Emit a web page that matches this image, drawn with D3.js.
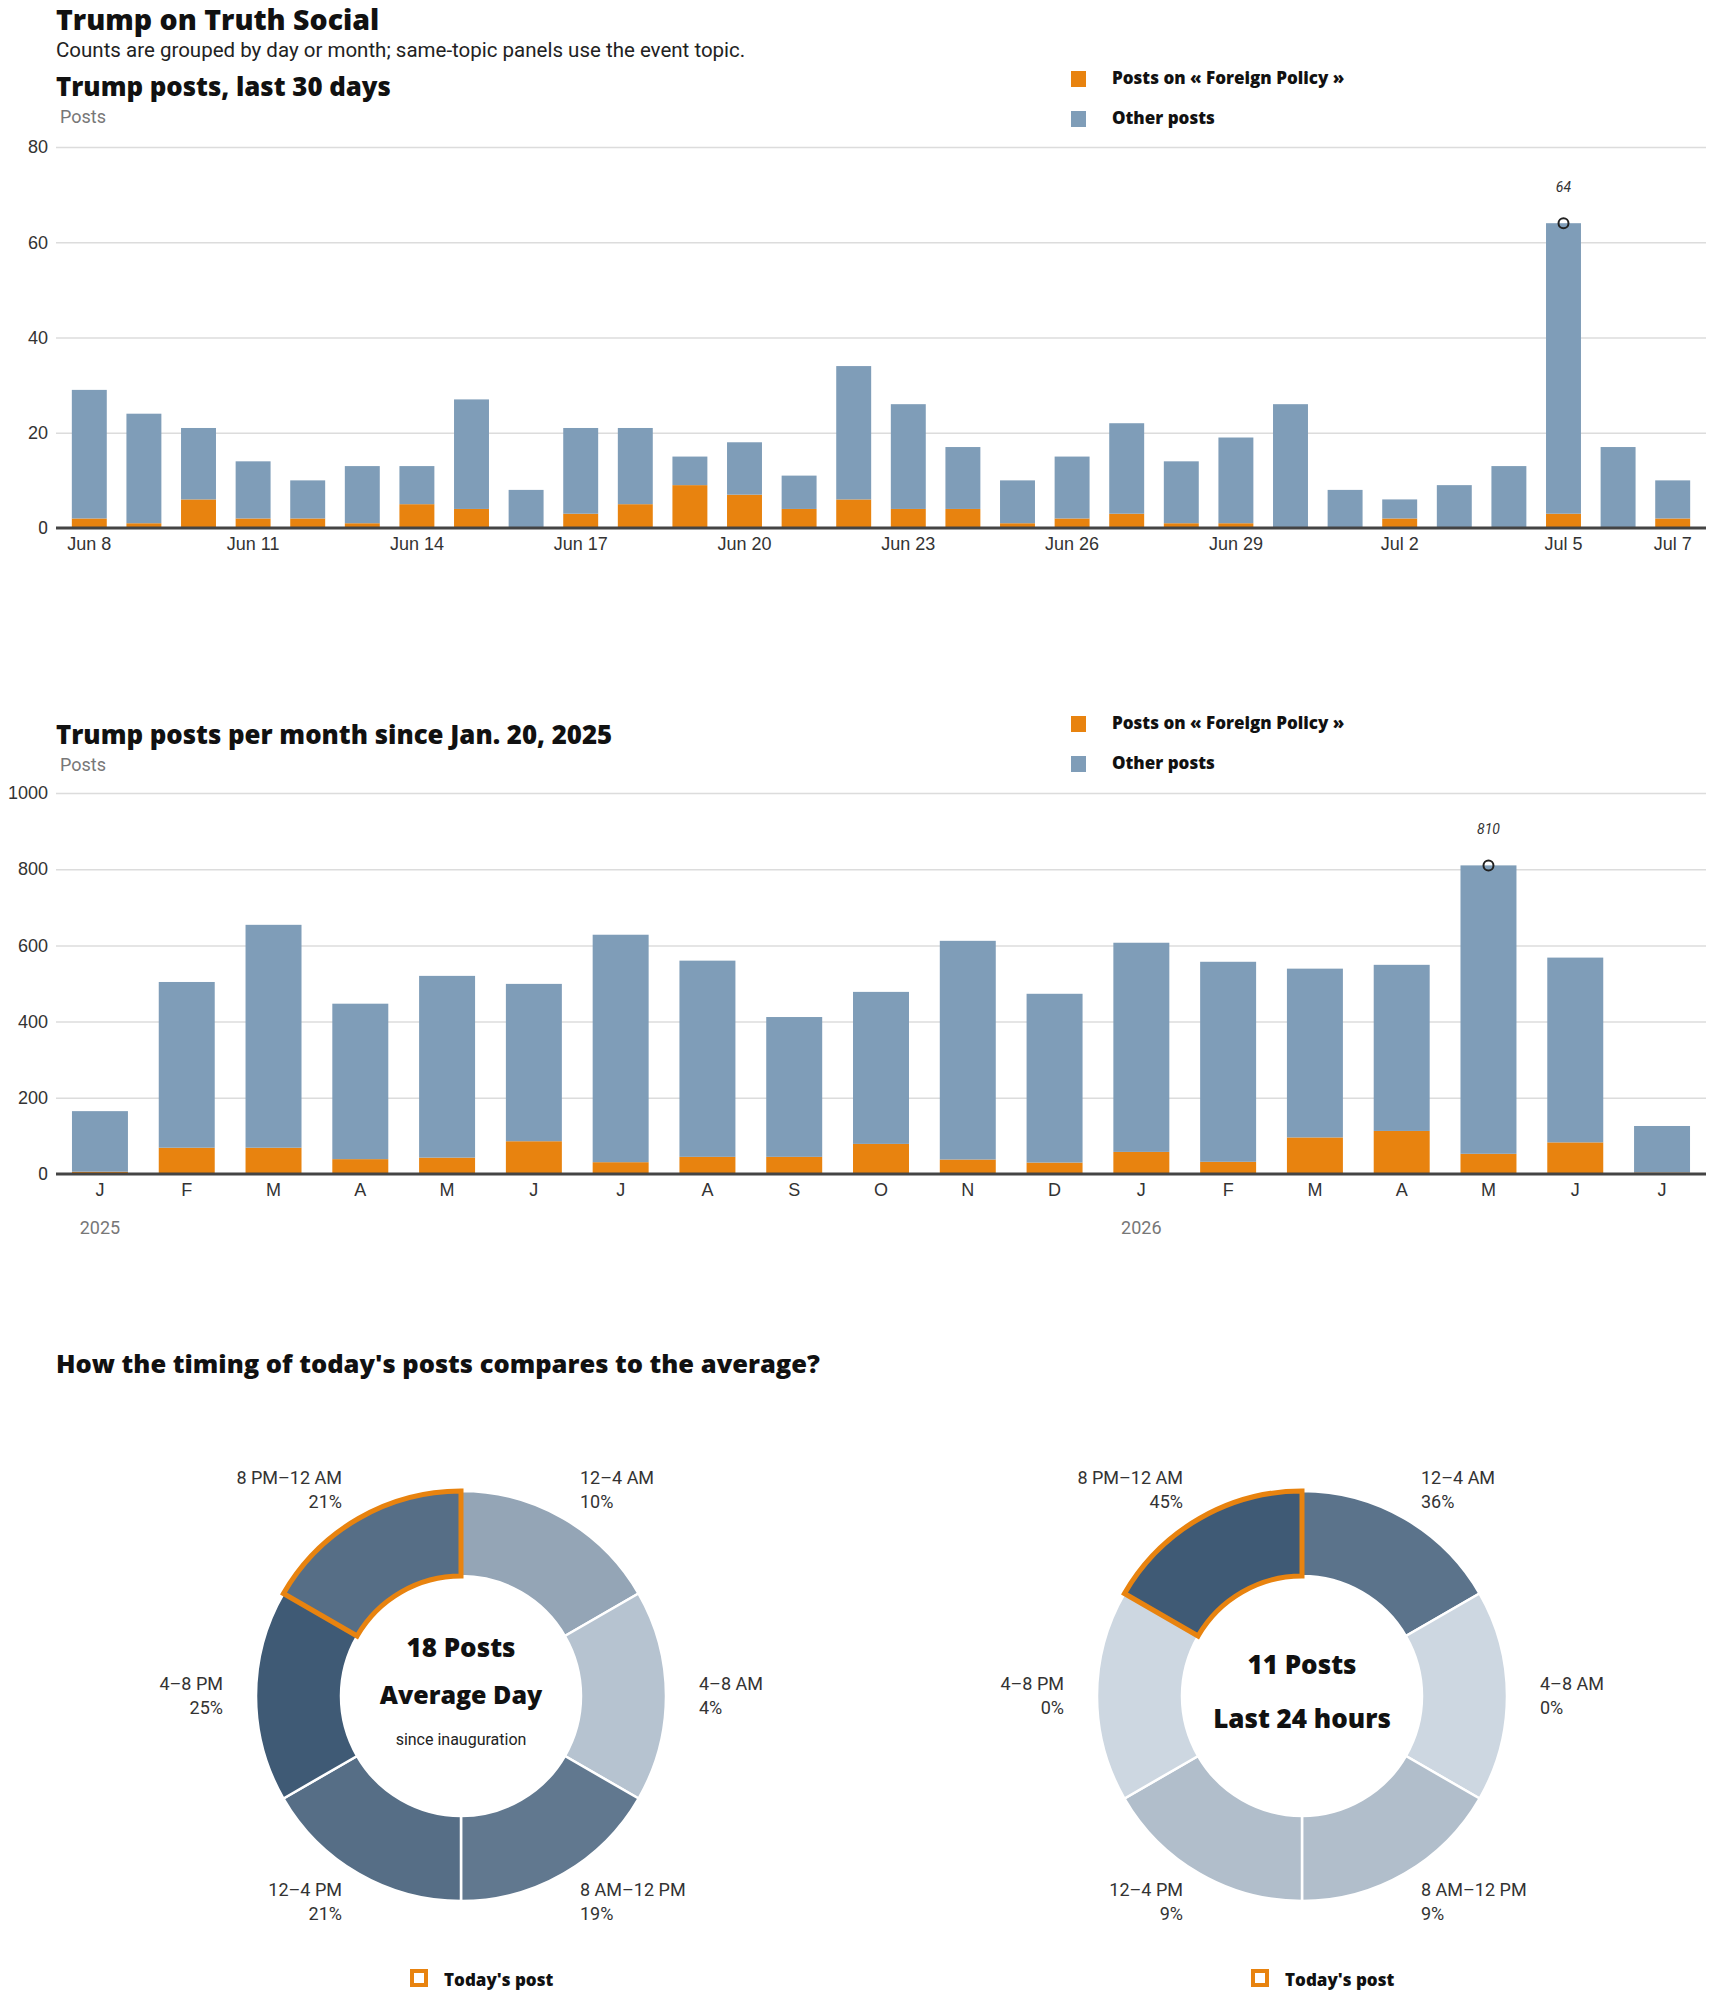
<!DOCTYPE html>
<html>
<head>
<meta charset="utf-8">
<script src="https://cdn.jsdelivr.net/npm/d3@7.9.0/dist/d3.min.js"></script>
<style>
  body { margin: 0; background: #fff; }
  svg { display: block; font-family: Roboto, "Open Sans", "Liberation Sans", sans-serif; }
  .bold { font-family: "Open Sans", Roboto, sans-serif; font-weight: 800; fill: #111; }
  .tick-label { font-size: 18px; fill: #333; }
  .muted { fill: #777; }
</style>
</head>
<body>
<svg id="chart" width="1710" height="1993"></svg>
<script>
// ---- data ----
const days = ["Jun 8","Jun 9","Jun 10","Jun 11","Jun 12","Jun 13","Jun 14","Jun 15","Jun 16","Jun 17",
  "Jun 18","Jun 19","Jun 20","Jun 21","Jun 22","Jun 23","Jun 24","Jun 25","Jun 26","Jun 27",
  "Jun 28","Jun 29","Jun 30","Jul 1","Jul 2","Jul 3","Jul 4","Jul 5","Jul 6","Jul 7"];
const dayTicks = ["Jun 8","Jun 11","Jun 14","Jun 17","Jun 20","Jun 23","Jun 26","Jun 29","Jul 2","Jul 5","Jul 7"];
const dailyTotal = [29,24,21,14,10,13,13,27,8,21,21,15,18,11,34,26,17,10,15,22,14,19,26,8,6,9,13,64,17,10];
const dailyTopic = [2,1,6,2,2,1,5,4,0,3,5,9,7,4,6,4,4,1,2,3,1,1,0,0,2,0,0,3,0,2];

const months = ["2025-01","2025-02","2025-03","2025-04","2025-05","2025-06","2025-07","2025-08","2025-09",
  "2025-10","2025-11","2025-12","2026-01","2026-02","2026-03","2026-04","2026-05","2026-06","2026-07"];
const monthTicks = ["J","F","M","A","M","J","J","A","S","O","N","D","J","F","M","A","M","J","J"];
const yearTicks = ["2025-01","2026-01"];
const yearNames = ["2025","2026"];
const monthlyTotal = [165,504,654,447,520,499,628,560,412,478,612,473,607,557,539,549,810,568,126];
const monthlyTopic = [6,69,69,39,43,86,31,45,45,79,38,30,58,32,96,113,53,83,4];

const slots = ["12–4 AM","4–8 AM","8 AM–12 PM","12–4 PM","4–8 PM","8 PM–12 AM"];
const avgShare = [10,4,19,21,25,21];
const todayShare = [36,0,9,9,0,45];
const todaySlot = "8 PM–12 AM";

const ORANGE = "#e8830f", BLUE = "#7f9db8";

const svg = d3.select("#chart");
const left = 56, right = 1706;

// headline
svg.append("text").attr("class", "bold").attr("x", left).attr("y", 30)
  .attr("font-size", 28.5).text("Trump on Truth Social");
svg.append("text").attr("x", left).attr("y", 57).attr("font-size", 20.5).attr("fill", "#222")
  .text("Counts are grouped by day or month; same-topic panels use the event topic.");

function legend(y) {
  const items = [[ORANGE, "Posts on « Foreign Policy »"], [BLUE, "Other posts"]];
  items.forEach(([c, t], i) => {
    svg.append("rect").attr("x", 1071).attr("y", y + i * 40).attr("width", 15).attr("height", 16).attr("fill", c);
    svg.append("text").attr("class", "bold").attr("x", 1112).attr("y", y + 13 + i * 40)
      .attr("font-size", 17).text(t);
  });
}

// stacked bar panel
function barPanel(opts) {
  const { keys, total, topic, yMax, yStep, top, bottom, title, titleY, legendY, inner, outer, tickLabels, tickFilter } = opts;
  const rows = keys.map((k, i) => ({ key: k, topic: topic[i], other: total[i] - topic[i], total: total[i] }));

  const x = d3.scaleBand().domain(keys).range([left, right]).paddingInner(inner).paddingOuter(outer);
  const y = d3.scaleLinear().domain([0, yMax]).range([bottom, top]);

  svg.append("text").attr("class", "bold").attr("x", left).attr("y", titleY).attr("font-size", 25.8).text(title);
  svg.append("text").attr("class", "muted").attr("x", 60).attr("y", titleY + 27).attr("font-size", 18).text("Posts");
  legend(legendY);

  const g = svg.append("g");
  const yAxis = d3.axisLeft(y).tickValues(d3.range(yStep, yMax + 1, yStep)).tickFormat(d3.format("d"))
    .tickSize(-(right - left)).tickPadding(8);
  g.append("g").attr("transform", `translate(${left},0)`).call(yAxis)
    .call(a => a.select(".domain").remove())
    .call(a => a.selectAll(".tick line").attr("stroke", "#dcdcdc").attr("stroke-width", 1.5))
    .call(a => a.selectAll(".tick text").attr("class", "tick-label").attr("font-size", null).attr("fill", null)
      .attr("font-family", null));
  g.append("text").attr("class", "tick-label").attr("x", 48).attr("y", y(0)).attr("dy", "0.35em")
    .attr("text-anchor", "end").text("0");

  const stack = d3.stack().keys(["topic", "other"])(rows);
  const color = { topic: ORANGE, other: BLUE };
  g.selectAll("g.layer").data(stack).join("g").attr("class", "layer").attr("fill", d => color[d.key])
    .selectAll("rect").data(d => d).join("rect")
    .attr("x", d => x(d.data.key)).attr("width", x.bandwidth())
    .attr("y", d => y(d[1])).attr("height", d => y(d[0]) - y(d[1]));

  g.append("line").attr("x1", left).attr("x2", right).attr("y1", y(0)).attr("y2", y(0))
    .attr("stroke", "#444").attr("stroke-width", 3);

  const xAxis = d3.axisBottom(x).tickSize(0).tickPadding(0)
    .tickValues(keys.filter(tickFilter)).tickFormat(tickLabels);
  g.append("g").attr("transform", `translate(0,${y(0) + 22})`).call(xAxis)
    .call(a => a.select(".domain").remove())
    .call(a => a.selectAll(".tick text").attr("class", "tick-label").attr("font-size", null)
      .attr("fill", null).attr("font-family", null).attr("dy", 0));

  // annotate peak
  const peak = rows.reduce((a, b) => (b.total > a.total ? b : a));
  const cx = x(peak.key) + x.bandwidth() / 2;
  g.append("circle").attr("cx", cx).attr("cy", y(peak.total)).attr("r", 5)
    .attr("fill", "none").attr("stroke", "#222").attr("stroke-width", 2);
  g.append("text").attr("x", cx).attr("y", y(peak.total) - 31).attr("text-anchor", "middle")
    .attr("font-size", 14).attr("font-style", "italic").attr("fill", "#333").text(peak.total);
  return { x, y };
}

barPanel({
  keys: days, total: dailyTotal, topic: dailyTopic, yMax: 80, yStep: 20,
  top: 147, bottom: 528, title: "Trump posts, last 30 days", titleY: 96, legendY: 71,
  inner: 0.36, outer: 0.29,
  tickFilter: d => dayTicks.includes(d), tickLabels: d => d
});

const monthly = barPanel({
  keys: months, total: monthlyTotal, topic: monthlyTopic, yMax: 1000, yStep: 200,
  top: 793, bottom: 1174, title: "Trump posts per month since Jan. 20, 2025", titleY: 744, legendY: 716,
  inner: 0.355, outer: 0.184,
  tickFilter: () => true, tickLabels: d => monthTicks[months.indexOf(d)]
});
yearTicks.forEach((k, i) => {
  svg.append("text").attr("class", "muted").attr("font-size", 18).attr("text-anchor", "middle")
    .attr("x", monthly.x(k) + monthly.x.bandwidth() / 2).attr("y", 1234).text(yearNames[i]);
});

// ---- timing donuts ----
svg.append("text").attr("class", "bold").attr("x", left).attr("y", 1373).attr("font-size", 25.5)
  .text("How the timing of today's posts compares to the average?");

function donut(cx, cy, shares, centerLines) {
  const g = svg.append("g").attr("transform", `translate(${cx},${cy})`);
  const color = d3.scaleLinear().domain([0, d3.max(shares)]).range(["#cdd7e1", "#3f5a75"]);
  const pie = d3.pie().sort(null).value(() => 1);
  const arc = d3.arc().innerRadius(120).outerRadius(205);
  const arcs = pie(slots.map((s, i) => ({ slot: s, share: shares[i] })));

  g.selectAll("path.slice").data(arcs).join("path").attr("class", "slice")
    .attr("d", arc).attr("fill", d => color(d.data.share))
    .attr("stroke", "#fff").attr("stroke-width", 2.5);

  g.selectAll("path.hl").data(arcs.filter(d => d.data.slot === todaySlot)).join("path").attr("class", "hl")
    .attr("d", arc).attr("fill", "none").attr("stroke", ORANGE).attr("stroke-width", 5)
    .attr("stroke-linejoin", "miter");

  const labelR = 238;
  const lab = g.selectAll("text.slot").data(arcs).join("text").attr("class", "slot tick-label")
    .attr("text-anchor", d => (Math.sin((d.startAngle + d.endAngle) / 2) > 0 ? "start" : "end"))
    .attr("transform", d => {
      const a = (d.startAngle + d.endAngle) / 2;
      return `translate(${labelR * Math.sin(a)},${-labelR * Math.cos(a)})`;
    });
  lab.append("tspan").attr("x", 0).attr("y", -6).text(d => d.data.slot);
  lab.append("tspan").attr("x", 0).attr("y", 18).text(d => d.data.share + "%");

  centerLines.forEach(([t, dy, size, bold]) => {
    g.append("text").attr("class", bold ? "bold" : null).attr("text-anchor", "middle").attr("y", dy)
      .attr("font-size", size).attr("fill", bold ? "#111" : "#222").text(t);
  });

  g.append("rect").attr("x", -49).attr("y", 275).attr("width", 14).attr("height", 14)
    .attr("fill", "none").attr("stroke", ORANGE).attr("stroke-width", 4);
  g.append("text").attr("class", "bold").attr("x", -17).attr("y", 290).attr("font-size", 17).text("Today's post");
}

donut(461, 1696, avgShare, [["18 Posts", -39, 26, true], ["Average Day", 8, 25, true], ["since inauguration", 49, 16, false]]);
donut(1302, 1696, todayShare, [["11 Posts", -22, 26, true], ["Last 24 hours", 32, 26, true]]);
</script>
</body>
</html>
